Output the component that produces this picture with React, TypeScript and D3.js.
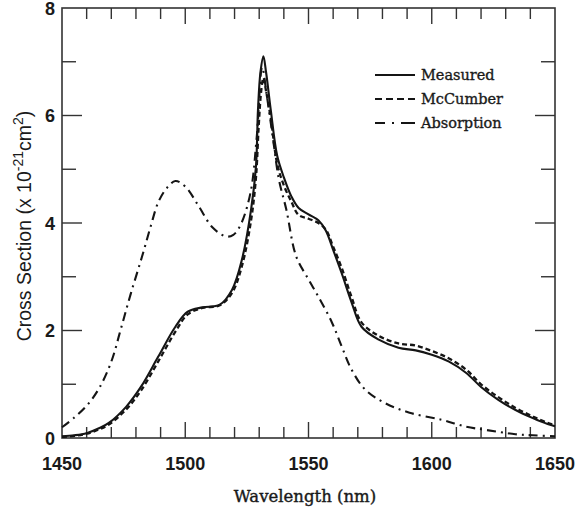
import React from "react";
import * as d3 from "d3";

const measuredX = [1450,1455,1460,1465,1469,1476,1482,1489,1496,1501,1507,1514,1519,1523,1526.7,1528.7,1529.5,1530.5,1531.7,1532.8,1534.7,1537.3,1540,1543,1546,1550,1554,1557,1560,1563.5,1567.5,1571.5,1578.5,1586.5,1593.5,1600,1607,1614,1620,1627,1634,1641,1647,1650];
const measuredY = [0.03,0.05,0.09,0.18,0.28,0.58,0.95,1.51,2.07,2.35,2.43,2.48,2.76,3.32,4.25,5.06,6.1,6.8,7.1,6.8,6.1,5.25,4.85,4.5,4.28,4.16,4.05,3.86,3.5,3.06,2.52,2.07,1.83,1.68,1.63,1.55,1.42,1.21,0.95,0.71,0.52,0.37,0.26,0.22];

const mcX = [1450,1455,1460,1465,1469,1476,1482,1489,1496,1501,1507,1514,1519,1523,1526.7,1528.7,1529.8,1530.8,1531.7,1532.8,1534.7,1537.3,1540,1543,1546,1550,1554,1557,1560,1563.5,1567.5,1571.5,1578.5,1586.5,1593.5,1600,1607,1614,1620,1627,1634,1641,1647,1650];
const mcY = [0.02,0.04,0.08,0.16,0.25,0.53,0.88,1.42,1.98,2.3,2.42,2.47,2.7,3.2,4.05,4.85,5.8,6.45,6.7,6.45,5.95,5.1,4.7,4.4,4.15,4.08,4.0,3.88,3.56,3.16,2.62,2.15,1.9,1.76,1.72,1.62,1.48,1.27,1.0,0.76,0.56,0.4,0.28,0.24];

const absX = [1450,1455,1460,1465,1470,1474,1478,1482.5,1486,1489,1492.5,1496,1500,1505.5,1511,1516.5,1519.5,1522.5,1526.5,1529,1531.2,1533,1535.5,1538,1541,1545,1550,1554,1559.5,1563.5,1567.5,1573,1581,1591,1604,1614,1622,1634,1641,1650];
const absY = [0.2,0.38,0.6,0.92,1.42,2.05,2.7,3.38,3.94,4.38,4.65,4.78,4.68,4.31,3.92,3.75,3.78,3.97,4.57,5.6,6.9,6.4,5.6,4.81,4.25,3.38,2.95,2.63,2.15,1.7,1.27,0.9,0.65,0.47,0.34,0.21,0.15,0.07,0.05,0.03];

const xTickLabels = [1450, 1500, 1550, 1600, 1650];
const yTickLabels = [0, 2, 4, 6, 8];
const legendLabels = ["Measured", "McCumber", "Absorption"];

const X0 = 62, X1 = 555, Y0 = 438, Y1 = 8;

export default function App() {
  const x = d3.scaleLinear().domain([1450, 1650]).range([X0, X1]);
  const y = d3.scaleLinear().domain([0, 8]).range([Y0, Y1]);
  const line = d3.line<[number, number]>().x(d => x(d[0])).y(d => y(d[1])).curve(d3.curveCatmullRom.alpha(0.5));
  const zip = (a: number[], b: number[]) => a.map((v, i) => [v, b[i]] as [number, number]);

  const xMinor = d3.range(1460, 1650, 10);
  const yMinor = d3.range(1, 8, 1);
  const ink = "#151515";
  const legendDash = [undefined, "7,4,7,4,7,4,7", "10,7,2,7,14"];
  const txt = "#1a1a1a";

  return (
    <svg width={582} height={512} style={{ position: "absolute", left: 0, top: 0, background: "#fff" }}>
      <rect x={0} y={0} width={582} height={512} fill="#fff" />
      {xMinor.map(v => {
        const major = v % 50 === 0;
        const L = major ? 16 : 11;
        return (
          <g key={"xt" + v} stroke="#333" strokeWidth={1.4}>
            <line x1={x(v)} x2={x(v)} y1={Y0} y2={Y0 - L} />
            <line x1={x(v)} x2={x(v)} y1={Y1} y2={Y1 + L} />
          </g>
        );
      })}
      {yMinor.map(v => {
        const major = v % 2 === 0;
        const L = major ? 20 : 14;
        return (
          <g key={"yt" + v} stroke="#333" strokeWidth={1.4}>
            <line x1={X0} x2={X0 + L} y1={y(v)} y2={y(v)} />
            <line x1={X1} x2={X1 - L} y1={y(v)} y2={y(v)} />
          </g>
        );
      })}
      <rect x={X0} y={Y1} width={X1 - X0} height={Y0 - Y1} fill="none" stroke="#333" strokeWidth={1.6} />
      <path d={line(zip(absX, absY)) || ""} fill="none" stroke={ink} strokeWidth={2.1} strokeDasharray="9,5,2,5" />
      <path d={line(zip(mcX, mcY)) || ""} fill="none" stroke={ink} strokeWidth={2.3} strokeDasharray="5,3" />
      <path d={line(zip(measuredX, measuredY)) || ""} fill="none" stroke={ink} strokeWidth={2.1} />
      {xTickLabels.map(v => (
        <text key={"xl" + v} x={x(v)} y={470} textAnchor="middle" fontFamily="Liberation Sans, Arial, sans-serif" fontWeight="bold" fontSize={18} fill={txt}>{v}</text>
      ))}
      {yTickLabels.map(v => (
        <text key={"yl" + v} x={55} y={y(v) + 6.5} textAnchor="end" fontFamily="Liberation Sans, Arial, sans-serif" fontWeight="bold" fontSize={18} fill={txt}>{v}</text>
      ))}
      <text x={305} y={502} textAnchor="middle" fontFamily="DejaVu Serif, serif" fontSize={16.5} fill={txt} stroke={txt} strokeWidth={0.4}>Wavelength (nm)</text>
      <text transform="translate(31,226) rotate(-90)" textAnchor="middle" fontFamily="Liberation Sans, Arial, sans-serif" fontSize={19.5} fill={txt}>
        Cross Section (x 10<tspan dy={-8} fontSize={14}>-21</tspan><tspan dy={8}>cm</tspan><tspan dy={-8} fontSize={14}>2</tspan><tspan dy={8}>)</tspan>
      </text>
      {legendLabels.map((lab, i) => {
        const ly = 75 + i * 24;
        return (
          <g key={lab}>
            <line x1={375} x2={415} y1={ly} y2={ly} stroke={ink} strokeWidth={2.2} strokeDasharray={legendDash[i]} />
            <text x={421} y={ly + 5} fontFamily="DejaVu Serif, serif" fontSize={14.5} fill={txt} stroke={txt} strokeWidth={0.35}>{lab}</text>
          </g>
        );
      })}
    </svg>
  );
}
